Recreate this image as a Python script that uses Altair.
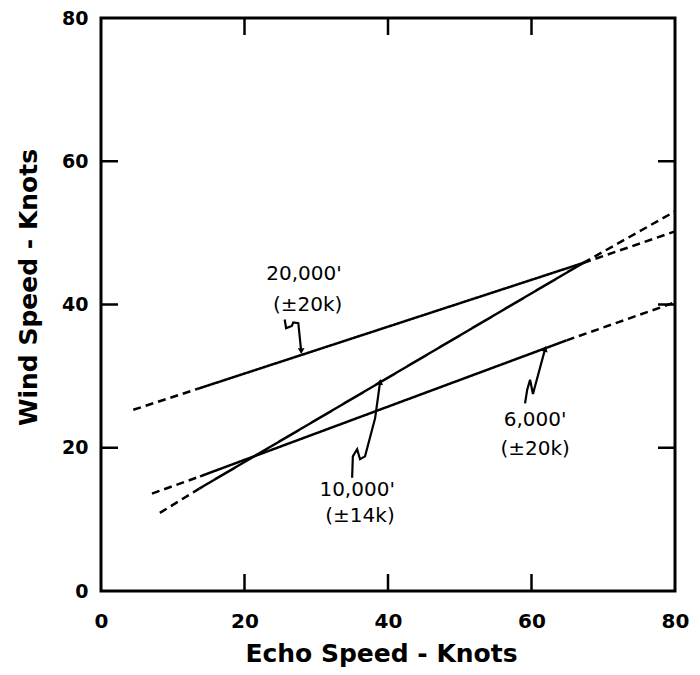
import altair as alt
import pandas as pd

# ---- data ----
# each segment of the three altitude lines: series, style, x0, y0, x1, y1
seg_series = ["20,000'", "20,000'", "20,000'", "10,000'", "10,000'", "10,000'", "6,000'", "6,000'", "6,000'"]
seg_style = ["dashed", "solid", "dashed", "dashed", "solid", "dashed", "dashed", "solid", "dashed"]
seg_x0 = [4.5, 13.4, 67.2, 8.2, 13.7, 67.2, 7.1, 13.8, 64.9]
seg_y0 = [25.3, 28.2, 45.8, 10.9, 14.3, 45.8, 13.6, 16.0, 35.0]
seg_x1 = [13.4, 67.2, 80.0, 13.7, 67.2, 80.0, 13.8, 64.9, 80.0]
seg_y1 = [28.2, 45.8, 50.2, 14.3, 45.8, 53.0, 16.0, 35.0, 40.3]

# annotation labels
label_text = ["20,000'", "(±20k)", "10,000'", "(±14k)", "6,000'", "(±20k)"]
label_x = [28.3, 28.8, 35.7, 36.1, 60.5, 60.5]
label_y = [44.2, 40.0, 14.1, 10.5, 23.9, 19.8]

# squiggly leader arrows (data coordinates)
arrow20_x = [25.6, 25.8, 26.6, 26.8, 27.5, 27.9]
arrow20_y = [37.9, 36.7, 37.0, 37.5, 37.4, 33.5]
arrow10_x = [35.0, 35.1, 35.7, 36.1, 36.8, 38.2, 38.9]
arrow10_y = [15.8, 18.8, 19.8, 18.4, 18.8, 24.1, 29.2]
arrow6_x = [59.1, 59.4, 59.8, 60.2, 61.9]
arrow6_y = [26.2, 28.1, 29.5, 27.5, 33.8]
arrow_angle = [180, 8, 15]

tick_values = [20, 40, 60]
axis_values = [0, 20, 40, 60, 80]

# ---- build tables ----
rows = []
for i, (s, st, x0, y0, x1, y1) in enumerate(zip(seg_series, seg_style, seg_x0, seg_y0, seg_x1, seg_y1)):
    rows.append({"seg": i, "series": s, "style": st, "x": x0, "y": y0, "o": 0})
    rows.append({"seg": i, "series": s, "style": st, "x": x1, "y": y1, "o": 1})
lines_df = pd.DataFrame(rows)

labels_df = pd.DataFrame({"text": label_text, "x": label_x, "y": label_y})

arows = []
heads = []
for aid, (xs_, ys_, ang) in enumerate(zip([arrow20_x, arrow10_x, arrow6_x],
                                          [arrow20_y, arrow10_y, arrow6_y],
                                          arrow_angle)):
    for k, (xx, yy) in enumerate(zip(xs_, ys_)):
        arows.append({"a": aid, "x": xx, "y": yy, "o": k})
    heads.append({"a": aid, "x": xs_[-1], "y": ys_[-1], "angle": ang})
arrows_df = pd.DataFrame(arows)
heads_df = pd.DataFrame(heads)
ticks_df = pd.DataFrame({"v": tick_values})

FONT = "DejaVu Sans"
W, H = 574, 573
xs = alt.Scale(domain=[0, 80], nice=False)
ys = alt.Scale(domain=[0, 80], nice=False)

xaxis = alt.Axis(values=axis_values, ticks=False, domain=False, grid=False,
                 labelFont=FONT, labelFontWeight="bold", labelFontSize=20,
                 labelColor="black", labelPadding=20, labelFlush=False,
                 title="Echo Speed - Knots", titleFont=FONT, titleFontWeight="bold",
                 titleFontSize=25, titleColor="black", titleX=280, titleY=62,
                 titleAlign="center", titleBaseline="middle")
yaxis = alt.Axis(values=axis_values, ticks=False, domain=False, grid=False,
                 labelFont=FONT, labelFontWeight="bold", labelFontSize=19,
                 labelColor="black", labelPadding=13, labelFlush=False,
                 title="Wind Speed - Knots", titleFont=FONT, titleFontWeight="bold",
                 titleFontSize=25, titleColor="black", titleX=-73, titleY=269,
                 titleAngle=270, titleAlign="center", titleBaseline="middle")

lines = alt.Chart(lines_df).mark_line(color="black", strokeWidth=2.5).encode(
    x=alt.X("x:Q", scale=xs, axis=xaxis),
    y=alt.Y("y:Q", scale=ys, axis=yaxis),
    detail="seg:N",
    order="o:Q",
    strokeDash=alt.StrokeDash("style:N", scale=alt.Scale(domain=["solid", "dashed"],
                                                         range=[[1, 0], [8, 5]]),
                              legend=None),
)

arrows = alt.Chart(arrows_df).mark_line(color="black", strokeWidth=2.2).encode(
    x=alt.X("x:Q", scale=xs), y=alt.Y("y:Q", scale=ys), detail="a:N", order="o:Q")

heads = alt.Chart(heads_df).mark_point(shape="triangle-up", filled=True, color="black",
                                       size=45, opacity=1).encode(
    x=alt.X("x:Q", scale=xs), y=alt.Y("y:Q", scale=ys), angle=alt.Angle("angle:Q", scale=None))

texts = alt.Chart(labels_df).mark_text(font=FONT, fontSize=20, color="black",
                                       align="center", baseline="middle").encode(
    x=alt.X("x:Q", scale=xs), y=alt.Y("y:Q", scale=ys), text="text:N")

TL = 17
tick_bottom = alt.Chart(ticks_df).mark_rule(color="black", strokeWidth=2.5).encode(
    x=alt.X("v:Q", scale=xs), y=alt.value(H), y2=alt.value(H - TL))
tick_top = alt.Chart(ticks_df).mark_rule(color="black", strokeWidth=2.5).encode(
    x=alt.X("v:Q", scale=xs), y=alt.value(0), y2=alt.value(TL))
tick_left = alt.Chart(ticks_df).mark_rule(color="black", strokeWidth=2.5).encode(
    y=alt.Y("v:Q", scale=ys), x=alt.value(0), x2=alt.value(TL))
tick_right = alt.Chart(ticks_df).mark_rule(color="black", strokeWidth=2.5).encode(
    y=alt.Y("v:Q", scale=ys), x=alt.value(W), x2=alt.value(W - TL))

chart = alt.layer(lines, arrows, heads, texts, tick_bottom, tick_top, tick_left, tick_right).properties(
    width=W, height=H,
    autosize=alt.AutoSizeParams(type="none"),
    padding={"left": 93, "top": 10, "right": 17, "bottom": 84},
    background="white",
).configure_view(stroke="black", strokeWidth=3)

chart.save("out.html", embed_options={"renderer": "svg", "actions": False})
